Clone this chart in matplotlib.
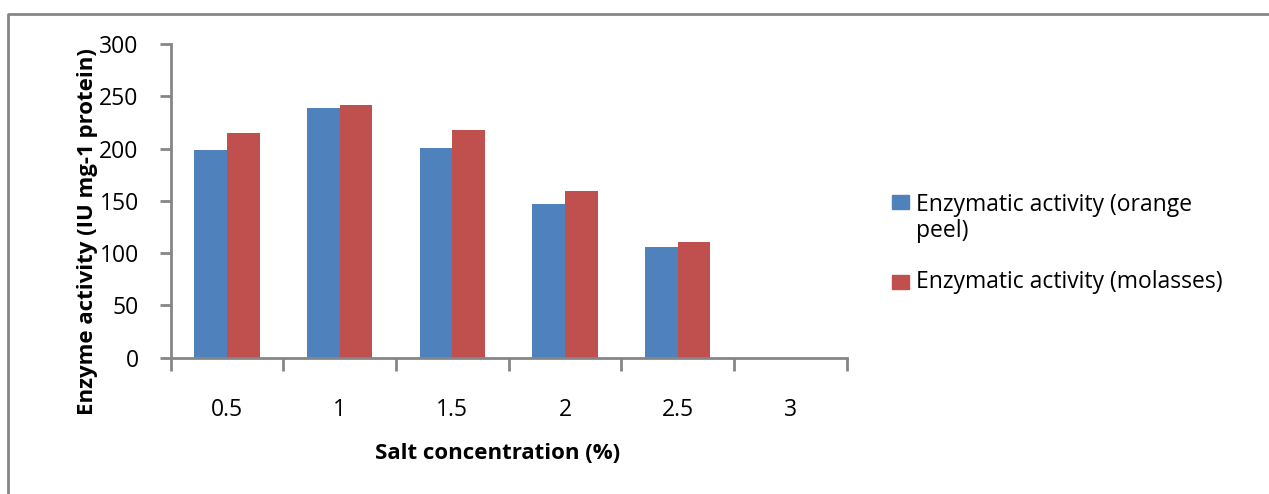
import numpy as np
import matplotlib
matplotlib.use("Agg")
import matplotlib.pyplot as plt
from matplotlib.patches import Rectangle
from matplotlib.lines import Line2D

# Enzyme activity at each salt concentration, two substrates
salt_conc = ["0.5", "1", "1.5", "2", "2.5", "3"]
orange_peel = [199, 239, 201, 147, 106, 0]
molasses = [215, 242, 218, 159, 111, 0]

series_labels = ["Enzymatic activity (orange\npeel)", "Enzymatic activity (molasses)"]
y_ticks = [0, 50, 100, 150, 200, 250, 300]

BLUE = "#4F81BD"
RED = "#C0504D"
GREY = "#868686"
FONT = "Open Sans"

plt.rcParams["font.family"] = [FONT, "DejaVu Sans"]

fig = plt.figure(figsize=(12.69, 4.94), dpi=100)
ax = fig.add_axes([0.1345, 0.2759, 0.5328, 0.6350])

x = np.arange(len(salt_conc))
width = 0.29
ax.bar(x - width / 2, orange_peel, width, color=BLUE, label=series_labels[0])
ax.bar(x + width / 2, molasses, width, color=RED, label=series_labels[1])

ax.set_xlim(-0.5, len(salt_conc) - 0.5)
ax.set_ylim(0, 300)
ax.set_yticks(y_ticks)
ax.set_yticklabels([str(v) for v in y_ticks], fontsize=16.5)

# category labels sit between the boundary ticks
ax.set_xticks(np.arange(-0.5, len(salt_conc)), minor=False)
ax.set_xticklabels([])
ax.set_xticks(x, minor=True)
ax.set_xticklabels(salt_conc, minor=True, fontsize=16.5)
ax.tick_params(axis="x", which="minor", length=0, pad=29)
ax.tick_params(axis="x", which="major", length=9, width=2, color=GREY, direction="out")
ax.tick_params(axis="y", length=8, width=2, color=GREY, direction="out", pad=15)

for side in ["top", "right"]:
    ax.spines[side].set_visible(False)
for side in ["left", "bottom"]:
    ax.spines[side].set_color(GREY)
    ax.spines[side].set_linewidth(2)

fig.text(0.0693, 1 - 232 / 494, "Enzyme activity (IU mg-1 protein)", rotation=90,
         ha="center", va="center", fontsize=16, fontweight="bold")
fig.text(0.392, 1 - 453 / 494, "Salt concentration (%)", ha="center", va="center",
         fontsize=16, fontweight="bold")

# legend, drawn by hand so the swatch lines up with the first text line
sw = 16.5 / 1269, 14 / 494
fig.patches.append(Rectangle((892 / 1269, 1 - 209 / 494), sw[0], sw[1],
                             transform=fig.transFigure, color=BLUE))
fig.patches.append(Rectangle((892 / 1269, 1 - 289 / 494), sw[0], sw[1],
                             transform=fig.transFigure, color=RED))
fig.text(916 / 1269, 1 - 237 / 494, series_labels[0], ha="left", va="baseline",
         fontsize=16.5, linespacing=1.1, transform=fig.transFigure)
fig.text(916 / 1269, 1 - 288 / 494, series_labels[1], ha="left", va="baseline",
         fontsize=16.5, transform=fig.transFigure)

# outer chart frame (left and top edges visible)
fig.add_artist(Line2D([8 / 1269, 8 / 1269, 1.01], [-0.01, 1 - 14 / 494, 1 - 14 / 494],
                      transform=fig.transFigure, color=GREY, linewidth=2))

fig.savefig("out.png", dpi=100)
